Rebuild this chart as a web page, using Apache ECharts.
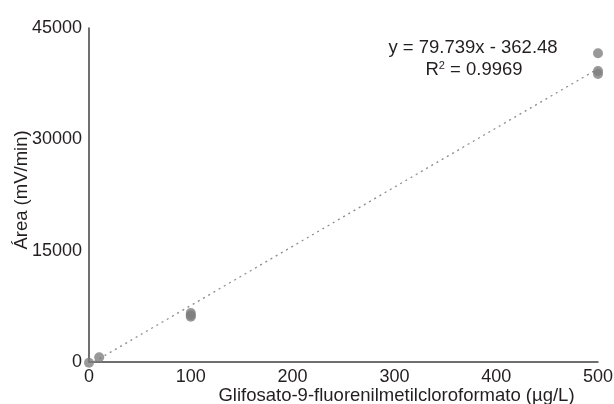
<!DOCTYPE html>
<html>
<head>
<meta charset="utf-8">
<script src="https://cdn.jsdelivr.net/npm/echarts@6/dist/echarts.min.js"></script>
<style>
  html, body { margin: 0; padding: 0; background: #fff; }
  #chart { width: 614px; height: 404px; }
</style>
</head>
<body>
<div id="chart"></div>
<script>
// datos de la curva de calibración
var concentraciones = [0, 10, 100, 100, 100, 500, 500, 500];
var areas = [-100, 650, 6600, 6300, 6100, 41600, 39200, 38800];
var pendiente = 79.739;
var intercepto = -362.48;
var r2 = "0.9969";
var xTicks = [0, 100, 200, 300, 400, 500];
var yTicks = [0, 15000, 30000, 45000];

var puntos = concentraciones.map(function (c, i) { return [c, areas[i]]; });
var tendencia = [0, 500].map(function (x) { return [x, pendiente * x + intercepto]; });

var myChart = echarts.init(document.getElementById("chart"));
var fuente = "Liberation Sans, Arial, sans-serif";

var option = {
  animation: false,
  grid: { left: 89, right: 16, top: 28, bottom: 42, outerBoundsMode: "none", containLabel: false },
  xAxis: {
    type: "value",
    min: xTicks[0],
    max: xTicks[xTicks.length - 1],
    interval: 100,
    name: "Glifosato-9-fluorenilmetilcloroformato (µg/L)",
    nameLocation: "middle",
    nameGap: 24,
    nameMoveOverlap: false,
    nameTextStyle: { color: "#231f20", fontSize: 18.5, fontFamily: fuente, padding: [0, 0, 0, 106] },
    axisLine: { lineStyle: { color: "#404040", width: 1.5 } },
    axisTick: { show: false },
    splitLine: { show: false },
    axisLabel: { color: "#231f20", fontSize: 18, fontFamily: fuente, margin: 6 }
  },
  yAxis: {
    type: "value",
    min: yTicks[0],
    max: yTicks[yTicks.length - 1],
    interval: 15000,
    name: "Área (mV/min)",
    nameLocation: "middle",
    nameGap: 58,
    nameMoveOverlap: false,
    nameTextStyle: { color: "#231f20", fontSize: 18.5, fontFamily: fuente, padding: [0, 0, 0, 10] },
    axisLine: { show: true, lineStyle: { color: "#404040", width: 1.5 } },
    axisTick: { show: false },
    splitLine: { show: false },
    axisLabel: {
      color: "#231f20", fontSize: 18, fontFamily: fuente, margin: 7, padding: [0, 0, 10, 0],
      formatter: function (v) { return String(v); }
    }
  },
  series: [
    {
      type: "line",
      data: tendencia,
      symbol: "none",
      clip: true,
      lineStyle: { color: "#8c8c8c", width: 1.3, type: [2, 4] },
      z: 1
    },
    {
      type: "scatter",
      data: puntos,
      symbolSize: 10,
      clip: false,
      itemStyle: { color: "#7f7f7f" },
      z: 2
    }
  ],
  graphic: [
    {
      type: "text",
      x: 473,
      y: 48,
      style: {
        text: "y = 79.739x - 362.48",
        font: "18.5px " + fuente,
        fill: "#231f20",
        align: "center",
        verticalAlign: "middle"
      }
    },
    {
      type: "text",
      x: 474,
      y: 70,
      style: {
        text: "R{s|2} = " + r2,
        font: "18.5px " + fuente,
        fill: "#231f20",
        align: "center",
        verticalAlign: "middle",
        rich: { s: { fontSize: 11, verticalAlign: "top", padding: [0, 0, 9, 0] } }
      }
    }
  ]
};

myChart.setOption(option);
</script>
</body>
</html>
